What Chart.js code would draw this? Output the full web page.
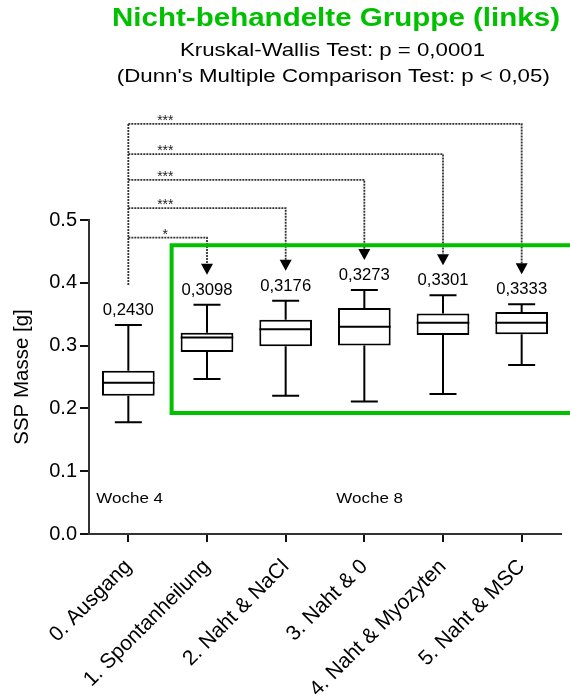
<!DOCTYPE html>
<html>
<head>
<meta charset="utf-8">
<script src="https://cdn.jsdelivr.net/npm/chart.js@4.4.1/dist/chart.umd.min.js"></script>
<style>
  html, body { margin: 0; padding: 0; background: #fff; }
  #wrap { width: 570px; height: 700px; }
</style>
</head>
<body>
<div id="wrap"><canvas id="boxChart"></canvas></div>
<script>
const gruppen = ['0. Ausgang', '1. Spontanheilung', '2. Naht & NaCl', '3. Naht & 0', '4. Naht & Myozyten', '5. Naht & MSC'];
const minWerte    = [0.178, 0.247, 0.220, 0.211, 0.223, 0.269];
const q1Werte     = [0.220, 0.290, 0.299, 0.300, 0.317, 0.318];
const medianWerte = [0.241, 0.313, 0.326, 0.330, 0.3365, 0.3365];
const q3Werte     = [0.260, 0.3205, 0.341, 0.360, 0.351, 0.3535];
const maxWerte    = [0.333, 0.365, 0.3715, 0.3885, 0.380, 0.366];
const mittelLabels = ['0,2430', '0,3098', '0,3176', '0,3273', '0,3301', '0,3333'];
const yTicks = [0.0, 0.1, 0.2, 0.3, 0.4, 0.5];

// Dunn-Vergleiche: Gruppe 0 gegen Zielgruppe
const vergleichZiel   = [1, 2, 3, 4, 5];
const vergleichSterne = ['*', '***', '***', '***', '***'];
const vergleichHoehe  = [0.472, 0.519, 0.564, 0.605, 0.653];

const gruen = '#00c000';
const schrift = "Arial, 'Liberation Sans', sans-serif";

// Text mit vorgegebener Breite zeichnen (Original ist horizontal gestreckt)
function dehnText(ctx, text, x, y, font, breite, align) {
  ctx.save();
  ctx.font = font;
  const w = ctx.measureText(text).width;
  const sx = breite ? breite / w : 1;
  ctx.translate(x, y);
  ctx.scale(sx, 1);
  ctx.textAlign = align || 'center';
  ctx.textBaseline = 'alphabetic';
  ctx.fillText(text, 0, 0);
  ctx.restore();
}

const boxPlugin = {
  id: 'boxPlugin',
  afterDatasetsDraw(chart) {
    const ctx = chart.ctx;
    const xs = chart.scales.x;
    const ys = chart.scales.y;
    ctx.save();
    ctx.strokeStyle = '#000';
    ctx.lineWidth = 2;
    gruppen.forEach((g, i) => {
      const x = xs.getPixelForValue(i);
      const halb = 13.5;
      const boxHalb = 26.3;
      ctx.beginPath();
      // Whisker oben
      ctx.moveTo(x, ys.getPixelForValue(q3Werte[i]));
      ctx.lineTo(x, ys.getPixelForValue(maxWerte[i]));
      ctx.moveTo(x - halb, ys.getPixelForValue(maxWerte[i]));
      ctx.lineTo(x + halb, ys.getPixelForValue(maxWerte[i]));
      // Whisker unten
      ctx.moveTo(x, ys.getPixelForValue(q1Werte[i]));
      ctx.lineTo(x, ys.getPixelForValue(minWerte[i]));
      ctx.moveTo(x - halb, ys.getPixelForValue(minWerte[i]));
      ctx.lineTo(x + halb, ys.getPixelForValue(minWerte[i]));
      // Median
      ctx.moveTo(x - boxHalb, ys.getPixelForValue(medianWerte[i]));
      ctx.lineTo(x + boxHalb, ys.getPixelForValue(medianWerte[i]));
      ctx.stroke();
    });
    ctx.restore();
  },
  afterDraw(chart) {
    const ctx = chart.ctx;
    const xs = chart.scales.x;
    const ys = chart.scales.y;

    // Titel
    ctx.save();
    ctx.fillStyle = gruen;
    dehnText(ctx, 'Nicht-behandelte Gruppe (links)', 336, 26, 'bold 26px ' + schrift, 448);
    ctx.fillStyle = '#000';
    dehnText(ctx, 'Kruskal-Wallis Test: p = 0,0001', 332.5, 56, '18.5px ' + schrift, 305);
    dehnText(ctx, "(Dunn's Multiple Comparison Test: p < 0,05)", 333.3, 82, '18.5px ' + schrift, 433);

    // Mittelwerte ueber den Boxen
    const labelY = maxWerte.map(v => ys.getPixelForValue(v) - 10);
    gruppen.forEach((g, i) => {
      dehnText(ctx, mittelLabels[i], xs.getPixelForValue(i), labelY[i], '16.5px ' + schrift, 51);
    });

    // Wochen
    dehnText(ctx, 'Woche 4', xs.getPixelForValue(0) - 32, 503, '15.5px ' + schrift, 66.7, 'left');
    dehnText(ctx, 'Woche 8', xs.getPixelForValue(3) - 28, 503, '15.5px ' + schrift, 66.7, 'left');

    // Signifikanz-Klammern
    const x0 = xs.getPixelForValue(0);
    const oben = ys.getPixelForValue(Math.max(...vergleichHoehe));
    ctx.strokeStyle = '#333';
    ctx.fillStyle = '#000';
    ctx.lineWidth = 1.8;
    ctx.setLineDash([2, 1]);
    ctx.beginPath();
    ctx.moveTo(x0, oben);
    ctx.lineTo(x0, labelY[0] - 29);
    ctx.stroke();
    vergleichZiel.forEach((ziel, k) => {
      const y = ys.getPixelForValue(vergleichHoehe[k]);
      const xt = xs.getPixelForValue(ziel);
      const spitze = labelY[ziel] - 20;
      ctx.setLineDash([2, 1]);
      ctx.beginPath();
      ctx.moveTo(x0, y);
      ctx.lineTo(xt, y);
      ctx.lineTo(xt, spitze - 11);
      ctx.stroke();
      ctx.setLineDash([]);
      ctx.beginPath();
      ctx.moveTo(xt - 6, spitze - 11);
      ctx.lineTo(xt + 6, spitze - 11);
      ctx.lineTo(xt, spitze);
      ctx.closePath();
      ctx.fill();
      ctx.fillStyle = '#222';
      ctx.font = '14px ' + schrift;
      ctx.textAlign = 'center';
      ctx.fillText(vergleichSterne[k], x0 + 37, y + 1);
      ctx.fillStyle = '#000';
    });
    ctx.setLineDash([]);

    // gruener Rahmen um die Woche-8-Gruppen
    ctx.strokeStyle = gruen;
    ctx.lineWidth = 4;
    const rl = xs.getPixelForValue(0.55);
    const rt = ys.getPixelForValue(0.4597);
    const rb = ys.getPixelForValue(0.1927);
    ctx.beginPath();
    ctx.moveTo(chart.width + 10, rt);
    ctx.lineTo(rl, rt);
    ctx.lineTo(rl, rb);
    ctx.lineTo(chart.width + 10, rb);
    ctx.stroke();
    ctx.restore();
  }
};

const cty = document.getElementById('boxChart');
const myChart = new Chart(cty, {
  type: 'bar',
  data: {
    labels: gruppen,
    datasets: [{
      label: 'SSP Masse',
      data: q1Werte.map((q, i) => [q, q3Werte[i]]),
      backgroundColor: '#fff',
      borderColor: '#000',
      borderWidth: 2,
      borderSkipped: false,
      categoryPercentage: 1,
      barPercentage: 0.67
    }]
  },
  options: {
    responsive: true,
    maintainAspectRatio: false,
    animation: false,
    layout: { padding: { top: 220, right: 9, left: 0, bottom: 0 } },
    plugins: {
      legend: { display: false },
      tooltip: { enabled: false }
    },
    scales: {
      x: {
        afterFit: (s) => { s.height = 166; },
        grid: { display: true, drawOnChartArea: false, offset: false, tickLength: 8, color: '#111', lineWidth: 2 },
        border: { color: '#333', width: 2 },
        ticks: {
          autoSkip: false,
          minRotation: 45,
          maxRotation: 45,
          padding: 15,
          color: '#000',
          font: { family: schrift, size: 21, lineHeight: 0.85 }
        }
      },
      y: {
        min: 0,
        max: 0.5,
        afterFit: (s) => { s.width = 89; },
        afterBuildTicks: (s) => { s.ticks = yTicks.map(v => ({ value: v })); },
        grid: { display: true, drawOnChartArea: false, tickLength: 9, color: '#111', lineWidth: 2 },
        border: { color: '#333', width: 2 },
        ticks: {
          padding: 3,
          color: '#000',
          font: { family: schrift, size: 20 },
          callback: (v) => Number(v).toFixed(1)
        },
        title: {
          display: true,
          text: 'SSP Masse [g]',
          color: '#000',
          padding: { top: 10, bottom: 0 },
          font: { family: schrift, size: 20.5 }
        }
      }
    }
  },
  plugins: [boxPlugin]
});
</script>
</body>
</html>
